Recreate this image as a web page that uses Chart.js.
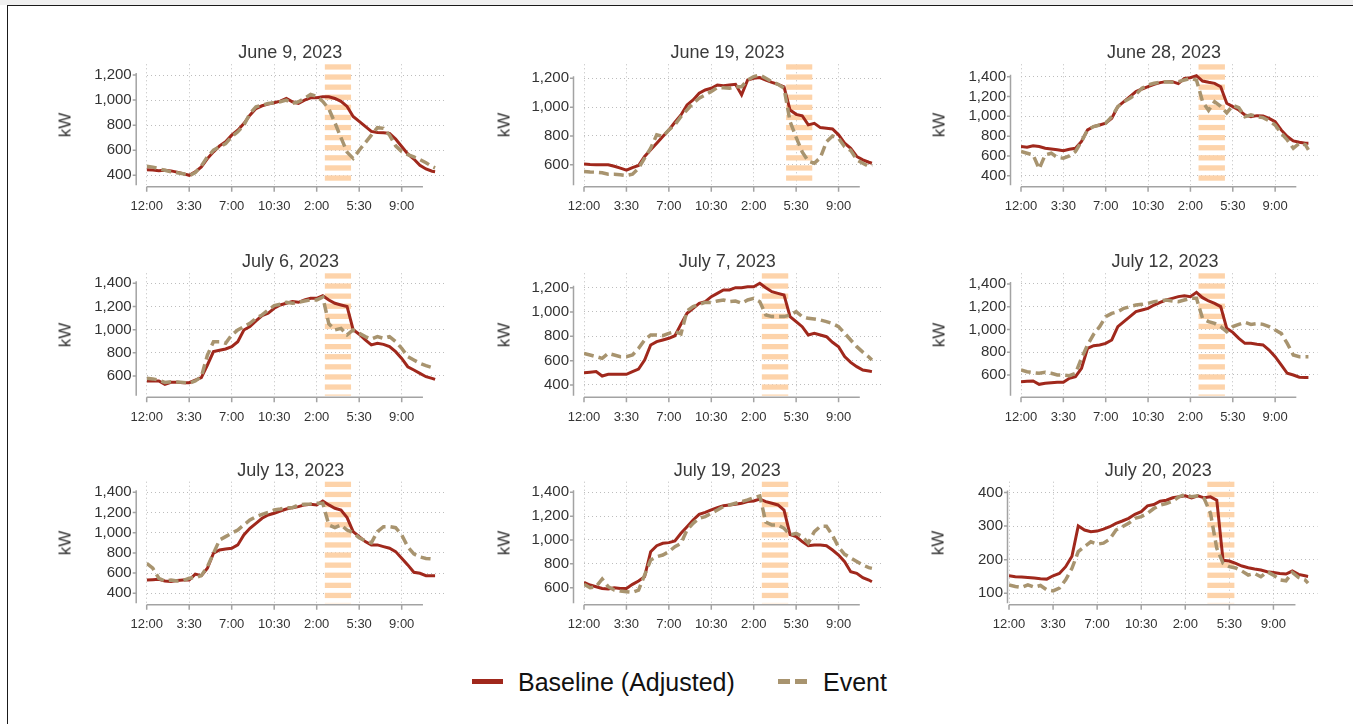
<!DOCTYPE html>
<html>
<head>
<meta charset="utf-8">
<title>Event Day Load Profiles</title>
<script src="https://cdn.jsdelivr.net/npm/chart.js@4/dist/chart.umd.min.js"></script>
<style>
  html, body { margin: 0; padding: 0; background: #fff; }
  body { width: 1353px; height: 724px; position: relative; overflow: hidden;
         font-family: 'Liberation Sans', Arial, Helvetica, sans-serif; }
  .topband { position: absolute; left: 0; top: 0; width: 1353px; height: 5px; background: #f0f0f0; }
  .frame { position: absolute; left: 7px; top: 5px; width: 1400px; height: 800px;
           border-left: 1.5px solid #1a1a1a; border-top: 1.5px solid #1a1a1a; }
  .ptitle { position: absolute; font-size: 18px; line-height: 18px; color: #3a3a3a;
            white-space: nowrap; transform: translateX(-50%); }
  .kw { position: absolute; font-size: 17px; line-height: 17px; color: #333; white-space: nowrap;
        transform: translate(-50%, -50%) rotate(-90deg); }
  canvas { position: absolute; }
  .lg { position: absolute; }
  .lg-text { position: absolute; font-size: 25px; line-height: 25px; color: #111; white-space: nowrap; }
</style>
</head>
<body>
<div class="topband"></div>
<div class="frame"></div>

<!-- legend -->
<div class="lg" style="left:472px;top:678.5px;width:31px;height:5.5px;background:#a0281c"></div>
<div class="lg-text" style="left:518px;top:669.5px">Baseline (Adjusted)</div>
<div class="lg" style="left:778px;top:679px;width:12px;height:5px;background:#a8946f"></div>
<div class="lg" style="left:794.5px;top:679px;width:12px;height:5px;background:#a8946f"></div>
<div class="lg-text" style="left:823px;top:669.5px">Event</div>

<script>
// ---- time axis (hours after midnight, 30-minute readings) ----
const hours = [0,0.5,1,1.5,2,2.5,3,3.5,4,4.5,5,5.5,6,6.5,7,7.5,8,8.5,9,9.5,10,10.5,11,11.5,
               12,12.5,13,13.5,14,14.5,15,15.5,16,16.5,17,17.5,18,18.5,19,19.5,20,20.5,21,21.5,
               22,22.5,23,23.5,23.75];
const xTickHours  = [0, 3.5, 7, 10.5, 14, 17.5, 21];
const xTickLabels = ['12:00', '3:30', '7:00', '10:30', '2:00', '5:30', '9:00'];

// ---- event days ----
const dates = ['June 9, 2023', 'June 19, 2023', 'June 28, 2023',
               'July 6, 2023', 'July 7, 2023', 'July 12, 2023',
               'July 13, 2023', 'July 19, 2023', 'July 20, 2023'];

// ---- load (kW) ----
const baseJun9  = [445,442,437,440,435,425,413,400,427,467,533,587,635,667,720,760,813,880,933,955,968,979,992,1013,987,973,1000,1019,1019,1027,1027,1013,990,950,870,830,790,750,742,740,735,690,630,570,530,480,450,432,428];
const eventJun9 = [472,465,453,440,427,420,413,395,421,475,547,600,627,653,707,747,800,893,947,960,973,979,987,1000,973,987,1013,1045,1030,990,930,820,700,585,535,600,660,720,780,775,720,635,590,565,547,525,500,470,460];

const baseJun19  = [605,602,600,600,600,590,577,563,581,595,658,704,750,796,842,895,946,1015,1050,1096,1119,1131,1154,1149,1154,1158,1085,1188,1200,1205,1188,1172,1158,1140,980,950,940,877,888,858,854,849,808,750,715,658,635,618,611];
const eventJun19 = [554,550,549,545,535,535,531,526,535,577,646,715,808,796,842,877,935,981,1027,1062,1085,1108,1135,1135,1131,1142,1142,1188,1212,1223,1200,1177,1158,1131,900,790,690,625,611,650,760,800,785,725,700,635,611,588,600];

const baseJun28  = [695,688,702,695,678,670,662,652,668,678,746,863,897,913,930,980,1098,1148,1199,1249,1276,1299,1323,1340,1350,1350,1330,1383,1390,1410,1356,1343,1333,1299,1132,1098,1064,1014,997,1007,1004,980,947,863,796,752,739,729,729];
const eventJun28 = [645,628,611,470,611,628,584,578,601,645,746,863,897,913,930,997,1098,1148,1182,1222,1283,1316,1333,1343,1350,1343,1350,1366,1383,1366,1150,1060,1148,1100,1035,1110,1088,997,1014,997,987,954,913,829,762,678,729,712,662];

const baseJul6  = [557,557,557,528,545,545,542,542,565,586,695,810,822,833,853,896,997,1026,1075,1121,1141,1184,1213,1227,1242,1236,1256,1270,1270,1293,1256,1227,1213,1200,1000,960,911,868,882,873,853,810,752,680,652,623,594,580,571];
const eventJul6 = [580,575,565,545,551,548,545,537,557,594,780,896,896,882,954,997,1026,1055,1098,1127,1170,1207,1219,1236,1227,1236,1247,1256,1256,1280,1050,997,1011,954,997,968,940,919,940,925,940,896,839,767,738,709,689,672,666];

const baseJul7  = [501,505,510,474,488,488,488,488,510,531,605,729,756,770,784,805,900,989,1030,1071,1085,1126,1153,1181,1181,1200,1200,1208,1208,1236,1200,1167,1153,1140,962,920,879,811,825,811,797,751,715,633,586,551,523,515,510];
const eventJul7 = [660,647,633,619,660,647,633,633,647,701,770,811,811,805,825,840,820,1010,1044,1063,1079,1079,1090,1099,1085,1090,1071,1099,1112,1085,975,962,962,962,975,1003,962,948,942,934,921,905,880,825,770,715,670,630,605];

const baseJul12  = [541,545,547,518,527,532,536,536,571,585,659,835,858,864,878,908,1025,1069,1113,1157,1171,1186,1215,1239,1259,1274,1289,1297,1289,1327,1280,1251,1230,1201,1010,975,922,878,878,870,864,820,761,688,615,600,580,577,577];
const eventJul12 = [644,629,621,615,624,615,600,600,594,615,747,864,958,1025,1113,1142,1157,1186,1201,1215,1221,1230,1245,1251,1259,1251,1245,1259,1274,1274,1098,1069,1054,1025,981,1025,1045,1063,1045,1051,1045,1025,996,966,878,776,761,761,761];

const baseJul13  = [532,535,539,522,516,526,532,532,590,575,648,796,829,839,846,879,978,1044,1093,1143,1176,1192,1215,1235,1248,1258,1275,1281,1275,1314,1275,1242,1225,1150,1011,961,912,879,879,862,846,813,747,681,608,598,575,575,575];
const eventJul13 = [697,648,549,522,532,522,526,549,555,575,664,796,928,961,994,1027,1077,1126,1159,1182,1202,1225,1235,1248,1248,1275,1281,1285,1291,1291,1077,1050,1077,1027,1000,950,920,900,1010,1060,1060,1050,980,860,790,760,745,740,null];

const baseJul19  = [645,622,608,594,589,600,594,594,628,656,692,902,952,972,978,992,1056,1112,1168,1215,1232,1252,1271,1288,1294,1299,1308,1322,1327,1344,1322,1308,1294,1250,1045,1028,986,952,958,958,952,916,874,818,734,720,684,664,650];
const eventJul19 = [628,600,608,673,608,580,572,566,561,580,706,832,860,874,902,944,972,1084,1140,1182,1196,1224,1252,1280,1294,1308,1322,1336,1355,1370,1150,1126,1126,1098,1042,1056,1028,975,1070,1115,1115,1040,940,880,850,820,790,768,762];

const baseJul20  = [152,149,148,147,145,143,142,152,159,179,210,300,288,283,285,291,298,308,315,323,335,343,360,364,374,377,384,387,390,384,390,384,387,377,198,196,189,181,176,172,169,164,162,159,157,166,156,152,150];
const eventJul20 = [125,120,117,125,118,123,110,107,115,140,174,224,239,253,246,249,261,288,298,308,323,328,338,352,362,367,374,387,394,387,390,382,338,234,189,179,175,166,154,159,149,164,154,140,137,162,147,140,130];

// ---- y-axis ticks (kW) ----
const yTicksJun9  = [400, 600, 800, 1000, 1200];
const yTicksJun19 = [600, 800, 1000, 1200];
const yTicksJun28 = [400, 600, 800, 1000, 1200, 1400];
const yTicksJul6  = [600, 800, 1000, 1200, 1400];
const yTicksJul7  = [400, 600, 800, 1000, 1200];
const yTicksJul12 = [600, 800, 1000, 1200, 1400];
const yTicksJul13 = [400, 600, 800, 1000, 1200, 1400];
const yTicksJul19 = [600, 800, 1000, 1200, 1400];
const yTicksJul20 = [100, 200, 300, 400];

// ---- event windows (start hour, end hour) ----
const windowJun9  = [14.67, 16.83];
const windowJun19 = [16.67, 18.83];
const windowJun28 = [14.67, 16.85];
const windowJul6  = [14.67, 16.83];
const windowJul7  = [14.67, 16.85];
const windowJul12 = [14.67, 16.85];
const windowJul13 = [14.67, 16.83];
const windowJul19 = [14.67, 16.85];
const windowJul20 = [15.75, 17.9];

// ---- styling ----
const BASE_COLOR  = '#a0281c';
const EVENT_COLOR = '#a8946f';
const BAND_COLOR  = '#fdd3aa';
const GRID_COLOR  = '#bdbdbd';
const AXIS_COLOR  = '#a3a3a3';
const TEXT_COLOR  = '#333';

Chart.defaults.font.family = "'Liberation Sans', Arial, Helvetica, sans-serif";

// panel layout: plot box in page pixels, y-axis range, axis offset
const panels = [
  { title: dates[0], base: baseJun9,  event: eventJun9,  yTicks: yTicksJun9,  win: windowJun9,  yMin: 320, yMax: 1286, box: { l: 146.7, r: 444.2,  t: 64.3,  b: 185.3 }, yOff: 10.5, titleX: 290.2,  kwX: 65.3 },
  { title: dates[1], base: baseJun19, event: eventJun19, yTicks: yTicksJun19, win: windowJun19, yMin: 458, yMax: 1297, box: { l: 584,   r: 881,    t: 64.3,  b: 185.3 }, yOff: 10.5, titleX: 727.5,  kwX: 503.5 },
  { title: dates[2], base: baseJun28, event: eventJun28, yTicks: yTicksJun28, win: windowJun28, yMin: 304, yMax: 1525, box: { l: 1021,  r: 1317.5, t: 64.3,  b: 185.3 }, yOff: 10.5, titleX: 1164,   kwX: 939.3 },
  { title: dates[3], base: baseJul6,  event: eventJul6,  yTicks: yTicksJul6,  win: windowJul6,  yMin: 430, yMax: 1486, box: { l: 146.7, r: 444.2,  t: 273.3, b: 395.7 }, yOff: 10.5, titleX: 290.5,  kwX: 65.3 },
  { title: dates[4], base: baseJul7,  event: eventJul7,  yTicks: yTicksJul7,  win: windowJul7,  yMin: 312, yMax: 1318, box: { l: 584,   r: 881,    t: 273.3, b: 395.7 }, yOff: 10.5, titleX: 727.2,  kwX: 503.5 },
  { title: dates[5], base: baseJul12, event: eventJul12, yTicks: yTicksJul12, win: windowJul12, yMin: 418, yMax: 1494, box: { l: 1021,  r: 1317.5, t: 273.3, b: 395.7 }, yOff: 10.5, titleX: 1165,   kwX: 939.3 },
  { title: dates[6], base: baseJul13, event: eventJul13, yTicks: yTicksJul13, win: windowJul13, yMin: 301, yMax: 1505, box: { l: 146.7, r: 444.2,  t: 481.7, b: 603.3 }, yOff: 10.5, titleX: 290.8,  kwX: 65.3 },
  { title: dates[7], base: baseJul19, event: eventJul19, yTicks: yTicksJul19, win: windowJul19, yMin: 469, yMax: 1489, box: { l: 584,   r: 881,    t: 481.7, b: 603.3 }, yOff: 10.5, titleX: 727.2,  kwX: 503.5 },
  { title: dates[8], base: baseJul20, event: eventJul20, yTicks: yTicksJul20, win: windowJul20, yMin: 70,  yMax: 432,  box: { l: 1009,  r: 1317.5, t: 481.7, b: 603.3 }, yOff: 1.5,  titleX: 1158.3, kwX: 938 }
];

// striped event window, offset axis lines and tick marks
const panelDecor = {
  id: 'panelDecor',
  beforeDatasetsDraw(chart, args, opts) {
    const { ctx, chartArea: { top, bottom }, scales: { x } } = chart;
    const x0 = x.getPixelForValue(opts.win[0]);
    const x1 = x.getPixelForValue(opts.win[1]);
    ctx.save();
    ctx.fillStyle = BAND_COLOR;
    const period = 10.1, stripe = 5.3;
    for (let yy = top; yy < bottom; yy += period) {
      ctx.fillRect(x0, yy, x1 - x0, Math.min(stripe, bottom - yy));
    }
    ctx.restore();
  },
  afterDraw(chart, args, opts) {
    const { ctx, chartArea, scales: { x, y } } = chart;
    const ax = chartArea.left - opts.yOff;
    const ay = chartArea.bottom + 1.5;
    ctx.save();
    ctx.strokeStyle = AXIS_COLOR;
    ctx.lineWidth = 1.5;
    ctx.beginPath();
    const topTick = y.getPixelForValue(opts.yTicks[opts.yTicks.length - 1]);
    ctx.moveTo(ax, topTick - 2);
    ctx.lineTo(ax, chartArea.bottom);
    opts.yTicks.forEach(v => {
      const py = y.getPixelForValue(v);
      ctx.moveTo(ax - 3.5, py);
      ctx.lineTo(ax, py);
    });
    ctx.moveTo(x.getPixelForValue(0), ay);
    ctx.lineTo(x.getPixelForValue(22.75), ay);
    xTickHours.forEach(h => {
      const px = x.getPixelForValue(h);
      ctx.moveTo(px, ay);
      ctx.lineTo(px, ay + 5);
    });
    ctx.stroke();
    ctx.restore();
  }
};

function addText(cls, text, left, top) {
  const d = document.createElement('div');
  d.className = cls;
  d.textContent = text;
  d.style.left = left + 'px';
  d.style.top = top + 'px';
  document.body.appendChild(d);
}

panels.forEach(p => {
  const { l, r, t, b } = p.box;
  const cl = Math.floor(l - 80), ct = Math.floor(t - 30);
  const cw = Math.ceil(r + 6) - cl, ch = Math.ceil(b + 36) - ct;
  const cv = document.createElement('canvas');
  cv.width = cw; cv.height = ch;
  cv.style.left = cl + 'px'; cv.style.top = ct + 'px';
  cv.style.width = cw + 'px'; cv.style.height = ch + 'px';
  document.body.appendChild(cv);

  const yW = l - cl, padTop = t - ct, padRight = cl + cw - r, xH = ct + ch - b;

  addText('ptitle', p.title, p.titleX, t - 6 - 15.2);
  addText('kw', 'kW', p.kwX, (t + b) / 2);

  new Chart(cv, {
    type: 'line',
    data: {
      datasets: [
        { label: 'Event', data: hours.map((h, i) => ({ x: h, y: p.event[i] })),
          borderColor: EVENT_COLOR, borderWidth: 3.5, borderDash: [10, 5],
          pointRadius: 0, tension: 0, fill: false, spanGaps: false },
        { label: 'Baseline (Adjusted)', data: hours.map((h, i) => ({ x: h, y: p.base[i] })),
          borderColor: BASE_COLOR, borderWidth: 3,
          pointRadius: 0, tension: 0, fill: false }
      ]
    },
    options: {
      responsive: false,
      animation: false,
      devicePixelRatio: 1,
      events: [],
      layout: { padding: { left: 0, top: padTop, right: padRight, bottom: 0 } },
      plugins: {
        legend: { display: false },
        tooltip: { enabled: false },
        panelDecor: { win: p.win, yTicks: p.yTicks, yOff: p.yOff }
      },
      scales: {
        x: {
          type: 'linear', min: 0, max: 24.5,
          afterBuildTicks: s => { s.ticks = xTickHours.map(v => ({ value: v })); },
          afterFit: s => { s.height = xH; },
          grid: { color: GRID_COLOR, lineWidth: 1, drawTicks: false },
          border: { display: false, dash: [1, 3] },
          ticks: { autoSkip: false, maxRotation: 0, minRotation: 0, padding: 13.5,
                   color: TEXT_COLOR, font: { size: 13 },
                   callback: v => xTickLabels[xTickHours.indexOf(v)] }
        },
        y: {
          type: 'linear', min: p.yMin, max: p.yMax,
          afterBuildTicks: s => { s.ticks = p.yTicks.map(v => ({ value: v })); },
          afterFit: s => { s.width = yW; },
          grid: { color: GRID_COLOR, lineWidth: 1, drawTicks: false },
          border: { display: false, dash: [1, 3] },
          ticks: { padding: p.yOff + 4.5, color: TEXT_COLOR, font: { size: 15 },
                   callback: v => v.toLocaleString('en-US') }
        }
      }
    },
    plugins: [panelDecor]
  });
});
</script>
</body>
</html>
